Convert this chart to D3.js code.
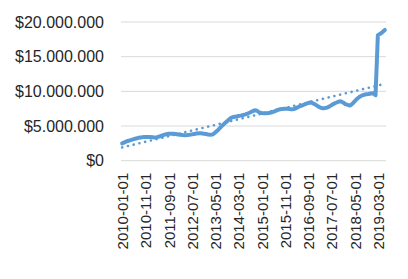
<!DOCTYPE html>
<html lang="en">
<head>
    <meta charset="UTF-8">
    <title>Monthly values 2010-2019</title>
    <script src="https://cdn.jsdelivr.net/npm/d3@7"></script>
    <style>
        body { margin: 0; background: #fff; }
        text { font-family: "Liberation Sans", Arial, sans-serif; fill: #262626; }
    </style>
</head>
<body>
    <div id="chart"></div>
    <script>
        // monthly values in millions, starting 2010-01
        var startMonth = "2010-01";
        var values = [
            2.50, 2.65, 2.80, 2.90, 3.00, 3.10, 3.20, 3.30, 3.35, 3.40,
            3.42, 3.42, 3.40, 3.38, 3.36, 3.40, 3.48, 3.60, 3.72, 3.82,
            3.88, 3.90, 3.88, 3.84, 3.78, 3.74, 3.70, 3.67, 3.70, 3.74,
            3.80, 3.86, 3.92, 3.96, 3.95, 3.90, 3.84, 3.78, 3.74, 3.80,
            4.05, 4.35, 4.70, 5.05, 5.35, 5.65, 5.95, 6.20, 6.30, 6.36,
            6.44, 6.50, 6.58, 6.68, 6.80, 6.95, 7.12, 7.28, 7.20, 6.95,
            6.88, 6.85, 6.83, 6.88, 6.95, 7.04, 7.18, 7.33, 7.42, 7.47,
            7.50, 7.49, 7.45, 7.40, 7.45, 7.62, 7.78, 7.92, 8.05, 8.18,
            8.32, 8.40, 8.30, 8.12, 7.90, 7.70, 7.58, 7.58, 7.64, 7.80,
            8.00, 8.20, 8.35, 8.50, 8.58, 8.40, 8.15, 8.05, 7.95, 8.20,
            8.55, 8.90, 9.18, 9.38, 9.50, 9.58, 9.62, 9.68, 9.72, 9.45,
            18.10, 18.30, 18.55, 18.85
        ];
        var yTicks = [0, 5, 10, 15, 20];
        var labelEvery = 10;

        var width = 408, height = 279;
        var plotLeft = 121, plotRight = 386, plotTop = 22, plotBottom = 160.7;

        // build the month labels
        var parse = d3.timeParse("%Y-%m");
        var fmtDate = d3.timeFormat("%Y-%m-01");
        var months = values.map((v, i) => fmtDate(d3.timeMonth.offset(parse(startMonth), i)));
        var data = values.map((v, i) => ({ month: months[i], value: v * 1e6, i: i }));

        var svg = d3.select('#chart')
                    .append('svg')
                    .attr('width', width)
                    .attr('height', height);

        var x = d3.scalePoint()
                  .domain(months)
                  .range([plotLeft, plotRight])
                  .padding(0.5);

        var y = d3.scaleLinear()
                  .domain([0, 20e6])
                  .range([plotBottom, plotTop]);

        var locale = d3.formatLocale({ decimal: ",", thousands: ".", grouping: [3], currency: ["$", ""] });
        var fmtMoney = locale.format("$,.0f");

        // gridlines
        svg.append('g')
            .selectAll('line')
            .data(yTicks)
            .join('line')
            .attr('x1', plotLeft)
            .attr('x2', plotRight)
            .attr('y1', d => y(d * 1e6))
            .attr('y2', d => y(d * 1e6))
            .attr('stroke', '#d9d9d9')
            .attr('stroke-width', 1);

        // y labels
        svg.append('g')
            .selectAll('text')
            .data(yTicks)
            .join('text')
            .attr('x', 104)
            .attr('y', d => y(d * 1e6))
            .attr('dy', '0.36em')
            .attr('text-anchor', 'end')
            .style('font-size', '16px')
            .text(d => fmtMoney(d * 1e6));

        // x labels, rotated
        var xAxis = d3.axisBottom(x)
                      .tickValues(months.filter((m, i) => i % labelEvery === 0))
                      .tickSize(0)
                      .tickPadding(0);
        var gx = svg.append('g')
                    .attr('transform', `translate(0,${plotBottom})`)
                    .call(xAxis);
        gx.select('.domain').remove();
        gx.selectAll('text')
          .attr('transform', 'rotate(-90)')
          .attr('x', -12)
          .attr('y', 0)
          .attr('dy', '0.36em')
          .attr('text-anchor', 'end')
          .style('font-size', '15px')
          .attr('fill', '#262626');

        // linear trend line
        var n = data.length;
        var mx = d3.mean(data, d => d.i), my = d3.mean(data, d => d.value);
        var slope = d3.sum(data, d => (d.i - mx) * (d.value - my)) / d3.sum(data, d => (d.i - mx) ** 2);
        var icpt = my - slope * mx;
        var trend = [data[0], data[n - 1]].map(d => ({ month: d.month, value: icpt + slope * d.i }));

        var line = d3.line()
                     .x(d => x(d.month))
                     .y(d => y(d.value));

        svg.append('path')
            .datum(data)
            .attr('d', line)
            .attr('fill', 'none')
            .attr('stroke', '#5b9bd5')
            .attr('stroke-width', 4)
            .attr('stroke-linejoin', 'round')
            .attr('stroke-linecap', 'round');

        svg.append('path')
            .datum(trend)
            .attr('d', line)
            .attr('fill', 'none')
            .attr('stroke', '#5b9bd5')
            .attr('stroke-width', 2.6)
            .attr('stroke-linecap', 'round')
            .attr('stroke-dasharray', '0.1 5.8');
    </script>
</body>
</html>
